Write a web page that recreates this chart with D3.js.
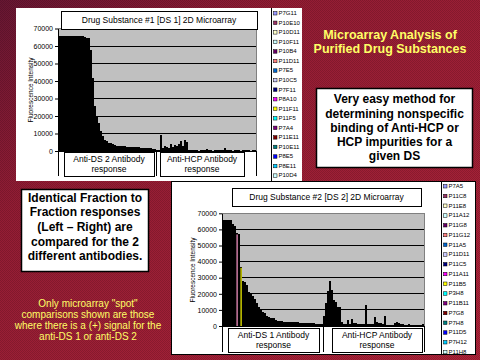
<!DOCTYPE html>
<html>
<head>
<meta charset="utf-8">
<script src="https://cdn.jsdelivr.net/npm/d3@7"></script>
<style>
  body { margin: 0; background: #8e1a30; }
  svg { display: block; font-family: "Liberation Sans", Arial, sans-serif; }
</style>
</head>
<body>
<div id="slide"></div>
<script>
// Y ticks shared by both microarray charts
const yTicks = [0, 10000, 20000, 30000, 40000, 50000, 60000, 70000];

// Drug Substance #1: spot intensities, Anti-DS 2 antibody (left half) and Anti-HCP antibody (right half)
const ds1AntiDs2 = [65535, 65535, 65535, 65535, 65535, 65535, 65535, 65535, 65535, 65535, 65535, 65535, 65535,
    65000, 64500, 64500, 58000, 42000, 26000, 20000, 16000, 11500, 8500, 6500, 5500, 4800, 4300, 3800, 3400, 3100,
    2900, 2800, 2700, 2600, 2500, 2400, 2400, 2300, 2300, 2200, 2100, 2000, 2000, 1900, 1800, 1700, 1600, 1400, 1200];
const ds1AntiHcp = [500, 600, 9000, 1500, 3000, 2500, 1800, 3800, 2200, 3500, 3000, 4000, 6000, 2800, 6200, 5000,
    500, 300, 300, 350, 300, 250, 300, 300, 300, 1000, 300, 300, 250, 300, 300, 350, 300, 300, 1500,
    300, 300, 300, 250, 300, 300, 300, 250, 300, 300, 300, 300, 250, 300, 300];

// Drug Substance #2: Anti-DS 1 antibody (left half) and Anti-HCP antibody (right half)
const ds2AntiDs1 = [65535, 65535, 65535, 65535, 65535, 63500, 62000, 57500, 57000, 36800, 28000, 27300, 25500, 21000,
    20000, 18500, 16500, 14000, 12000, 10500, 9000, 8000, 6500, 5500, 5000, 4800, 3800, 3300, 3200, 3000,
    2700, 2600, 2500, 2500, 2400, 2400, 2300, 2200, 2100, 2000, 2000, 1900, 1800, 1700, 1600, 1600, 1500, 1500, 1500, 1400];
const ds2AntiHcp = [6000, 14000, 22000, 28000, 22500, 16000, 15000, 12000, 12000, 2500, 1500, 1400, 3700, 1300, 4100,
    2000, 2000, 1200, 1200, 1000, 1000, 13000, 1200, 1100, 1500, 5300, 2200, 1800, 1800, 1200, 6200, 700,
    600, 600, 700, 1800, 2500, 2000, 1200, 1100, 700, 600, 1000, 800, 600, 500, 500, 500, 500, 1500];

// Legend entries (visible part of the series lists)
const ds1Legend = ["P7G11", "P10E10", "P10D11", "P10F11", "P10B4", "P11D11", "P7E5", "P10C5", "P7F11",
    "P8A10", "P11F11", "P11F5", "P7A4", "P11E11", "P10E11", "P8E5", "P8E11", "P10D4"];
const ds2Legend = ["P7A5", "P11C8", "P11E8", "P11A12", "P11G8", "P11G12", "P11A5", "P11D11", "P11C5",
    "P11A11", "P11B5", "P3H8", "P11B11", "P7G8", "P7H8", "P11D5", "P7H12", "P11H8"];
const seriesColors = ["#9999FF", "#993366", "#FFFFCC", "#CCFFFF", "#660066", "#FF8080", "#0066CC", "#CCCCFF",
    "#000080", "#FF00FF", "#FFFF00", "#00FFFF", "#800080", "#800000", "#008080", "#0000FF", "#00CCFF", "#CCFFFF"];

const W = 480, H = 360;
const svg = d3.select("#slide").append("svg").attr("width", W).attr("height", H);
const defs = svg.append("defs");

// Slide background: dark red with a dithered texture
const grad = defs.append("linearGradient").attr("id", "bg").attr("x1", 0).attr("y1", 0).attr("x2", 1).attr("y2", 1);
grad.append("stop").attr("offset", 0).attr("stop-color", "#681632");
grad.append("stop").attr("offset", 0.3).attr("stop-color", "#941c34");
grad.append("stop").attr("offset", 1).attr("stop-color", "#ad2338");
const dither = defs.append("pattern").attr("id", "dither").attr("width", 2).attr("height", 2)
    .attr("patternUnits", "userSpaceOnUse");
dither.append("rect").attr("width", 1).attr("height", 1).attr("fill", "#000").attr("opacity", 0.15);
dither.append("rect").attr("x", 1).attr("y", 1).attr("width", 1).attr("height", 1).attr("fill", "#000").attr("opacity", 0.15);
svg.append("rect").attr("width", W).attr("height", H).attr("fill", "url(#bg)");
svg.append("rect").attr("width", W).attr("height", H).attr("fill", "url(#dither)");

function microarrayChart(c)
{
    defs.append("clipPath").attr("id", c.id + "-clip")
        .append("rect").attr("x", c.box[0]).attr("y", c.box[1]).attr("width", c.box[2]).attr("height", c.box[3]);

    const g = svg.append("g").attr("clip-path", `url(#${c.id}-clip)`);

    // White chart area
    g.append("rect")
        .attr("x", c.box[0]).attr("y", c.box[1]).attr("width", c.box[2]).attr("height", c.box[3])
        .attr("fill", "#fff");

    const values = c.left.concat(c.right);
    const x = d3.scaleBand()
        .domain(d3.range(values.length))
        .range([c.plot[0], c.plot[1]])
        .padding(0);
    const y = d3.scaleLinear()
        .domain([0, 70000])
        .range([c.plot[2], c.plot[3]]);

    // Gray plot area
    g.append("rect")
        .attr("x", c.plot[0]).attr("y", y(70000))
        .attr("width", c.plot[1] - c.plot[0]).attr("height", y(0) - y(70000))
        .attr("fill", "#c0c0c0").attr("stroke", "#808080").attr("stroke-width", 1)
        .attr("shape-rendering", "crispEdges");

    // Horizontal gridlines
    g.append("g").attr("shape-rendering", "crispEdges")
        .selectAll("line")
        .data(yTicks.filter(t => t > 0 && t < 70000))
        .join("line")
        .attr("x1", c.plot[0]).attr("x2", c.plot[1])
        .attr("y1", d => y(d)).attr("y2", d => y(d))
        .attr("stroke", "#000");

    // Bars (one spot per bar)
    g.append("g").attr("shape-rendering", "crispEdges")
        .selectAll("rect")
        .data(values)
        .join("rect")
        .attr("x", (d, i) => x(i))
        .attr("y", d => y(d))
        .attr("width", x.bandwidth())
        .attr("height", d => y(0) - y(d))
        .attr("fill", "#000");

    // A few bars are wide enough to show their fill colour
    g.append("g")
        .selectAll("rect")
        .data(c.colored)
        .join("rect")
        .attr("x", d => Math.round(x(d.i)) + 0.5)
        .attr("y", d => y(values[d.i]) + 1)
        .attr("width", 1.2)
        .attr("height", d => y(0) - y(values[d.i]) - 1)
        .attr("fill", d => d.color);

    // Y axis
    g.append("g")
        .attr("transform", `translate(${c.plot[0]}, 0)`)
        .call(d3.axisLeft(y).tickValues(yTicks).tickFormat(d3.format("d")).tickSize(3).tickSizeOuter(0).tickPadding(2))
        .call(a => a.select(".domain").attr("stroke", "#000"))
        .call(a => a.selectAll(".tick line").attr("stroke", "#000"))
        .call(a => a.selectAll(".tick text")
            .attr("fill", "#000")
            .attr("font-family", "Liberation Sans, Arial, sans-serif")
            .attr("font-size", 7));

    // X axis line and group separators
    g.append("line")
        .attr("x1", c.plot[0]).attr("x2", c.plot[1])
        .attr("y1", y(0) + 0.5).attr("y2", y(0) + 0.5)
        .attr("stroke", "#000");
    g.append("g")
        .selectAll("line")
        .data([c.plot[0], x(c.left.length), c.plot[1]])
        .join("line")
        .attr("x1", d => Math.round(d) + 0.5).attr("x2", d => Math.round(d) + 0.5)
        .attr("y1", y(0)).attr("y2", c.catBottom)
        .attr("stroke", "#000");

    // Y axis title
    g.append("text")
        .attr("transform", `translate(${c.yTitle[0]}, ${c.yTitle[1]}) rotate(-90)`)
        .attr("text-anchor", "middle")
        .attr("dy", "0.35em")
        .attr("font-size", 6.5)
        .text("Fluorescence Intensity");

    // Chart title box
    g.append("rect")
        .attr("x", c.titleBox[0] + 0.5).attr("y", c.titleBox[1] + 0.5)
        .attr("width", c.titleBox[2]).attr("height", c.titleBox[3])
        .attr("fill", "#fff").attr("stroke", "#000");
    g.append("text")
        .attr("x", c.titleBox[0] + c.titleBox[2] / 2)
        .attr("y", c.titleBox[1] + c.titleBox[3] / 2)
        .attr("dy", "0.35em")
        .attr("text-anchor", "middle")
        .attr("font-size", 8.5)
        .text(c.title);

    // Category label boxes under each half
    c.catBoxes.forEach(b =>
    {
        g.append("rect")
            .attr("x", b.x + 0.5).attr("y", b.y + 0.5).attr("width", b.w).attr("height", b.h)
            .attr("fill", "#fff").attr("stroke", "#000");
        g.append("text")
            .attr("x", b.x + b.w / 2).attr("y", b.y + b.h / 2)
            .attr("text-anchor", "middle")
            .attr("font-size", 8.5)
            .selectAll("tspan")
            .data(b.lines)
            .join("tspan")
            .attr("x", b.x + b.w / 2)
            .attr("dy", (d, i) => i === 0 ? "-0.2em" : "1.15em")
            .text(d => d);
    });

    // Legend column
    g.append("line")
        .attr("x1", c.legend.x + 0.5).attr("x2", c.legend.x + 0.5)
        .attr("y1", c.box[1]).attr("y2", c.box[1] + c.box[3])
        .attr("stroke", "#000");
    const items = g.append("g")
        .selectAll("g")
        .data(c.legend.names)
        .join("g")
        .attr("transform", (d, i) => `translate(${c.legend.x + 2}, ${c.legend.y + i * c.legend.step})`);
    items.append("rect")
        .attr("x", 0.5).attr("y", -1.5).attr("width", 3.5).attr("height", 3.5)
        .attr("fill", (d, i) => seriesColors[i % seriesColors.length])
        .attr("stroke", "#000").attr("stroke-width", 0.5);
    items.append("text")
        .attr("x", 5.5).attr("y", 0).attr("dy", "0.35em")
        .attr("font-size", 6)
        .text(d => d);
}

// Chart 1 (behind), chart 2 overlaps its lower right corner
microarrayChart({
    id: "ds1",
    box: [16, 8, 286, 173],
    plot: [58, 256, 151, 28.5],
    left: ds1AntiDs2,
    right: ds1AntiHcp,
    colored: [],
    yTitle: [31, 90],
    title: "Drug Substance #1 [DS 1] 2D Microarray",
    titleBox: [61, 11, 196, 18],
    catBottom: 176,
    catBoxes: [
        {x: 64, y: 152, w: 90, h: 24, lines: ["Anti-DS 2 Antibody", "response"]},
        {x: 160, y: 152, w: 84, h: 24, lines: ["Anti-HCP Antibody", "response"]}
    ],
    legend: {x: 271, y: 13, step: 9.55, names: ds1Legend}
});

microarrayChart({
    id: "ds2",
    box: [171, 181, 305, 174],
    plot: [222, 424, 326, 213.3],
    left: ds2AntiDs1,
    right: ds2AntiHcp,
    colored: [{i: 7, color: "#FF99CC"}, {i: 9, color: "#FFFF00"}],
    yTitle: [193, 270],
    title: "Drug Substance #2 [DS 2] 2D Microarray",
    titleBox: [232, 188, 189, 18],
    catBottom: 352,
    catBoxes: [
        {x: 228, y: 328, w: 91, h: 24, lines: ["Anti-DS 1 Antibody", "response"]},
        {x: 332, y: 328, w: 90, h: 24, lines: ["Anti-HCP Antibody", "response"]}
    ],
    legend: {x: 441, y: 186, step: 9.75, names: ds2Legend}
});
svg.append("rect").attr("x", 171.5).attr("y", 181.5).attr("width", 304).attr("height", 173)
    .attr("fill", "none").attr("stroke", "#000").attr("stroke-width", 1);

// Text callouts on the slide
function textBlock(lines, cx, cy0, step, size, weight, color)
{
    svg.append("g")
        .selectAll("text")
        .data(lines)
        .join("text")
        .attr("x", cx)
        .attr("y", (d, i) => cy0 + i * step)
        .attr("dy", "0.35em")
        .attr("text-anchor", "middle")
        .attr("font-size", size)
        .attr("font-weight", weight)
        .attr("fill", color)
        .text(d => d);
}

textBlock(["Microarray Analysis of", "Purified Drug Substances"], 390, 35, 14, 12.5, "bold", "#ffff66");

svg.append("rect").attr("x", 316.5).attr("y", 88.5).attr("width", 156).attr("height", 79)
    .attr("fill", "#fff").attr("stroke", "#000").attr("stroke-width", 1.5);
textBlock(["Very easy method for", "determining nonspecific", "binding of Anti-HCP or",
    "HCP impurities for a", "given DS"], 394.5, 99, 14.3, 12, "bold", "#000");

svg.append("rect").attr("x", 21.5).attr("y", 189.5).attr("width", 127).attr("height", 82)
    .attr("fill", "#fff").attr("stroke", "#000").attr("stroke-width", 1.5);
textBlock(["Identical Fraction to", "Fraction responses", "(Left \u2013 Right) are",
    "compared for the 2", "different antibodies."], 85, 197.5, 14.6, 12, "bold", "#000");

textBlock(["Only microarray \"spot\"", "comparisons shown are those",
    "where there is a (+) signal for the", "anti-DS 1 or anti-DS 2"], 88, 303, 11.3, 10, "normal", "#ffff66");
</script>
</body>
</html>
